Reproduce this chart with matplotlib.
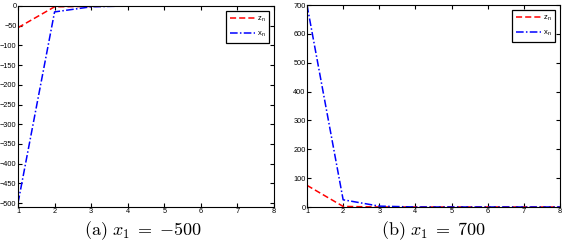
import matplotlib
matplotlib.use("Agg")
import matplotlib.pyplot as plt

plt.rcParams['font.family'] = ['Liberation Sans', 'DejaVu Sans']
plt.rcParams['mathtext.fontset'] = 'cm'

n = [1, 2, 3, 4, 5, 6, 7, 8]

# (a) x1 = -500
z_a = [-55, -2, -1, 0, 0, 0, 0, 0]
x_a = [-500, -15, -2, 0, 0, 0, 0, 0]

# (b) x1 = 700
z_b = [75, 2, 0, 0, 0, 0, 0, 0]
x_b = [700, 25, 3, 0, 0, 0, 0, 0]

fig = plt.figure(figsize=(5.67, 2.49), dpi=100)
ax1 = fig.add_axes([18/567, 1 - 207/249, 256/567, 201/249])
ax2 = fig.add_axes([307/567, 1 - 207/249, 253/567, 202/249])

for ax, z, x, lim, ticks in [
    (ax1, z_a, x_a, (-510, 0), range(-500, 1, 50)),
    (ax2, z_b, x_b, (0, 700), range(0, 701, 100)),
]:
    ax.plot(n, z, color='red', linestyle=(0, (4, 2)), lw=1.1, label=r'z$_\mathregular{n}$')
    ax.plot(n, x, color='blue', linestyle=(0, (5, 1.5, 1, 1.5)), lw=1.1, label=r'x$_\mathregular{n}$')
    ax.set_xlim(1, 8)
    ax.set_ylim(*lim)
    ax.set_yticks(list(ticks))
    ax.set_xticks(n)
    ax.tick_params(direction='in', length=3, labelsize=5.3, pad=1, top=True, right=True)
    for s in ax.spines.values():
        s.set_linewidth(0.8)
    leg = ax.legend(loc='upper right', fontsize=5.5, fancybox=False, framealpha=1,
                    edgecolor='black', handlelength=3.2, borderpad=0.5,
                    labelspacing=0.8, handletextpad=0.3, borderaxespad=0.6)
    leg.get_frame().set_linewidth(0.9)

fig.text(143/567, 1 - 231/249, r'$\mathrm{(a)}\ x_1 \;=\; {-500}$', ha='center', va='center', fontsize=13)
fig.text(433/567, 1 - 231/249, r'$\mathrm{(b)}\ x_1 \;=\; 700$', ha='center', va='center', fontsize=13)

fig.savefig('out.png', dpi=100)
